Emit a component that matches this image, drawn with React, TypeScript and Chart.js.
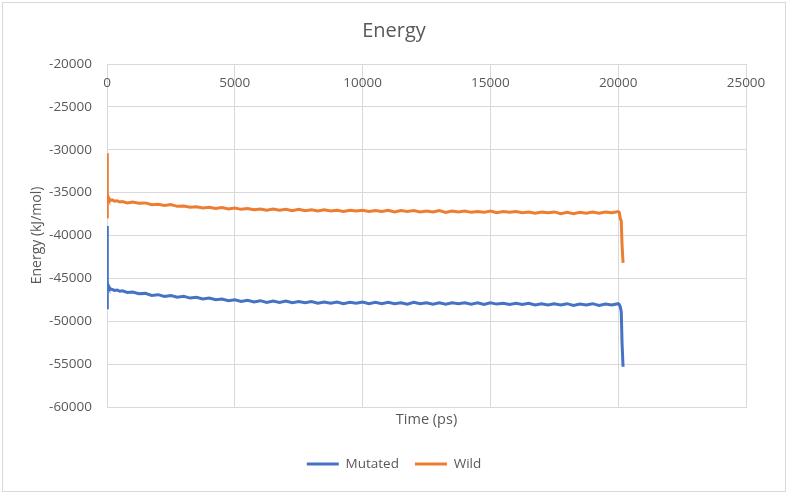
import React, { useEffect, useRef } from 'react';
import { Chart, registerables } from 'chart.js';

Chart.register(...registerables);

const chartTitle = 'Energy';
const xAxisTitle = 'Time (ps)';
const yAxisTitle = 'Energy (kJ/mol)';
const seriesNames = ['Mutated', 'Wild'];
const seriesColors = ['#4472C4', '#ED7D31'];

const xTickValues = [0, 5000, 10000, 15000, 20000, 25000];
const yTickValues = [-20000, -25000, -30000, -35000, -40000, -45000, -50000, -55000, -60000];

const timePs = [
  0, 5, 10, 20, 40, 70, 100, 150, 200, 300, 400, 500, 600, 800,
  1000, 1250, 1500, 1750, 2000, 2250, 2500, 2750, 3000, 3250, 3500, 3750,
  4000, 4250, 4500, 4750, 5000, 5250, 5500, 5750, 6000, 6250, 6500, 6750,
  7000, 7250, 7500, 7750, 8000, 8250, 8500, 8750, 9000, 9250, 9500, 9750,
  10000, 10250, 10500, 10750, 11000, 11250, 11500, 11750, 12000, 12250, 12500, 12750,
  13000, 13250, 13500, 13750, 14000, 14250, 14500, 14750, 15000, 15250, 15500, 15750,
  16000, 16250, 16500, 16750, 17000, 17250, 17500, 17750, 18000, 18250, 18500, 18750,
  19000, 19250, 19500, 19750, 20000,
  20040, 20080, 20120, 20150, 20190,
];

const mutatedEnergy = [
  -38900, -48600, -44200, -45500, -45800, -46000, -46100, -46250, -46300, -46400, -46350, -46500, -46450, -46650,
  -46600, -46800, -46750, -47000, -46900, -47100, -47000, -47200, -47100, -47300, -47200, -47400,
  -47300, -47500, -47400, -47600, -47500, -47700, -47550, -47750, -47600, -47800, -47650, -47800,
  -47650, -47850, -47700, -47850, -47700, -47900, -47750, -47900, -47750, -47950, -47800, -47900,
  -47750, -47950, -47800, -47950, -47800, -47950, -47850, -48000, -47800, -47950, -47850, -48000,
  -47850, -48000, -47850, -47950, -47850, -48000, -47850, -48050, -47850, -48000, -47900, -48050,
  -47900, -48050, -47900, -48100, -47950, -48100, -47950, -48100, -47950, -48150, -48000, -48100,
  -47950, -48150, -48000, -48100, -47950,
  -48050, -48300, -48900, -52500, -55300,
];

const wildEnergy = [
  -30400, -38000, -34400, -35200, -35500, -35700, -35800, -35900, -35850, -36000, -35950, -36100, -36050, -36200,
  -36100, -36250, -36200, -36400, -36350, -36500, -36400, -36600, -36550, -36700, -36650, -36800,
  -36700, -36850, -36750, -36900, -36800, -36950, -36850, -37000, -36900, -37050, -36900, -37050,
  -36950, -37100, -36950, -37100, -37000, -37150, -37000, -37150, -37050, -37200, -37050, -37150,
  -37050, -37200, -37100, -37200, -37050, -37250, -37100, -37200, -37100, -37250, -37150, -37250,
  -37100, -37300, -37150, -37250, -37150, -37300, -37200, -37300, -37150, -37350, -37200, -37300,
  -37200, -37350, -37250, -37400, -37250, -37350, -37250, -37450, -37300, -37450, -37300, -37400,
  -37250, -37400, -37250, -37350, -37200,
  -37300, -38000, -38300, -41100, -43200,
];

const FONT = '"Open Sans", "Noto Sans", sans-serif';
const TEXT = '#595959';
const GRID = '#d9d9d9';

const frame = {
  id: 'frame',
  beforeDraw(chart: any) {
    const { ctx, width, height } = chart;
    ctx.save();
    ctx.fillStyle = '#ffffff';
    ctx.fillRect(0, 0, width, height);
    ctx.strokeStyle = GRID;
    ctx.lineWidth = 1;
    ctx.strokeRect(2.5, 2.5, width - 5, height - 5);
    ctx.restore();
  },
};

const topTickLabels = {
  id: 'topTickLabels',
  afterDraw(chart: any) {
    const xs = chart.scales.x;
    const { ctx, chartArea } = chart;
    ctx.save();
    ctx.font = `13.5px ${FONT}`;
    ctx.fillStyle = TEXT;
    ctx.textAlign = 'center';
    ctx.textBaseline = 'middle';
    xs.ticks.forEach((t: any) => {
      ctx.fillText(String(t.value), xs.getPixelForValue(t.value), chartArea.top + 19);
    });
    ctx.restore();
  },
};

export default function App() {
  const ref = useRef<HTMLCanvasElement>(null);
  useEffect(() => {
    const canvas = ref.current!;
    const chart = new Chart(canvas, {
      type: 'line',
      data: {
        datasets: [
          {
            label: seriesNames[0],
            data: timePs.map((t, i) => ({ x: t, y: mutatedEnergy[i] })),
            borderColor: seriesColors[0],
            backgroundColor: seriesColors[0],
            borderWidth: 3,
            pointRadius: 0,
            tension: 0,
          },
          {
            label: seriesNames[1],
            data: timePs.map((t, i) => ({ x: t, y: wildEnergy[i] })),
            borderColor: seriesColors[1],
            backgroundColor: seriesColors[1],
            borderWidth: 3,
            pointRadius: 0,
            tension: 0,
          },
        ],
      },
      options: {
        responsive: false,
        animation: false,
        layout: { padding: { left: 0, right: 0, top: 0, bottom: 13.25 } },
        scales: {
          x: {
            type: 'linear',
            min: 0,
            max: 25000,
            afterBuildTicks: (s: any) => {
              s.ticks = xTickValues.map((v) => ({ value: v }));
            },
            afterFit: (s: any) => {
              s.height = 34.25;
            },
            ticks: { display: false },
            grid: { color: GRID, lineWidth: 1, drawTicks: false },
            border: { display: true, color: GRID },
            title: {
              display: true,
              text: xAxisTitle,
              color: TEXT,
              font: { family: FONT, size: 14.5 },
              padding: { top: 0, bottom: 12.6 },
            },
          },
          y: {
            type: 'linear',
            position: 'left',
            min: -60000,
            max: -20000,
            afterBuildTicks: (s: any) => {
              s.ticks = yTickValues.map((v) => ({ value: v }));
            },
            afterFit: (s: any) => {
              s.width = 107;
            },
            ticks: {
              color: TEXT,
              font: { family: FONT, size: 13.5 },
              padding: 15,
              callback: (v: any) => String(v),
            },
            grid: { color: GRID, lineWidth: 1, drawTicks: false },
            border: { display: true, color: GRID },
            title: {
              display: true,
              text: yAxisTitle,
              color: TEXT,
              font: { family: FONT, size: 14 },
              padding: { top: 28.6, bottom: 0 },
            },
          },
          yRight: {
            type: 'linear',
            position: 'right',
            display: true,
            afterFit: (s: any) => {
              s.width = 42;
            },
            ticks: { display: false },
            grid: { display: false },
            border: { display: false },
          },
        },
        plugins: {
          title: {
            display: true,
            text: chartTitle,
            color: TEXT,
            font: { family: FONT, size: 20, weight: 'normal' },
            padding: { top: 19, bottom: 21 },
          },
          legend: {
            display: true,
            position: 'bottom',
            labels: {
              color: TEXT,
              font: { family: FONT, size: 13.5 },
              usePointStyle: true,
              pointStyle: 'line',
              pointStyleWidth: 32,
              padding: 16,
            },
          },
          tooltip: { enabled: false },
        },
      },
      plugins: [frame, topTickLabels],
    } as any);
    return () => chart.destroy();
  }, []);
  return (
    <div style={{ position: 'fixed', left: 0, top: 0, width: 788, height: 494, background: '#fff' }}>
      <canvas ref={ref} width={788} height={494} style={{ display: 'block' }} />
    </div>
  );
}
